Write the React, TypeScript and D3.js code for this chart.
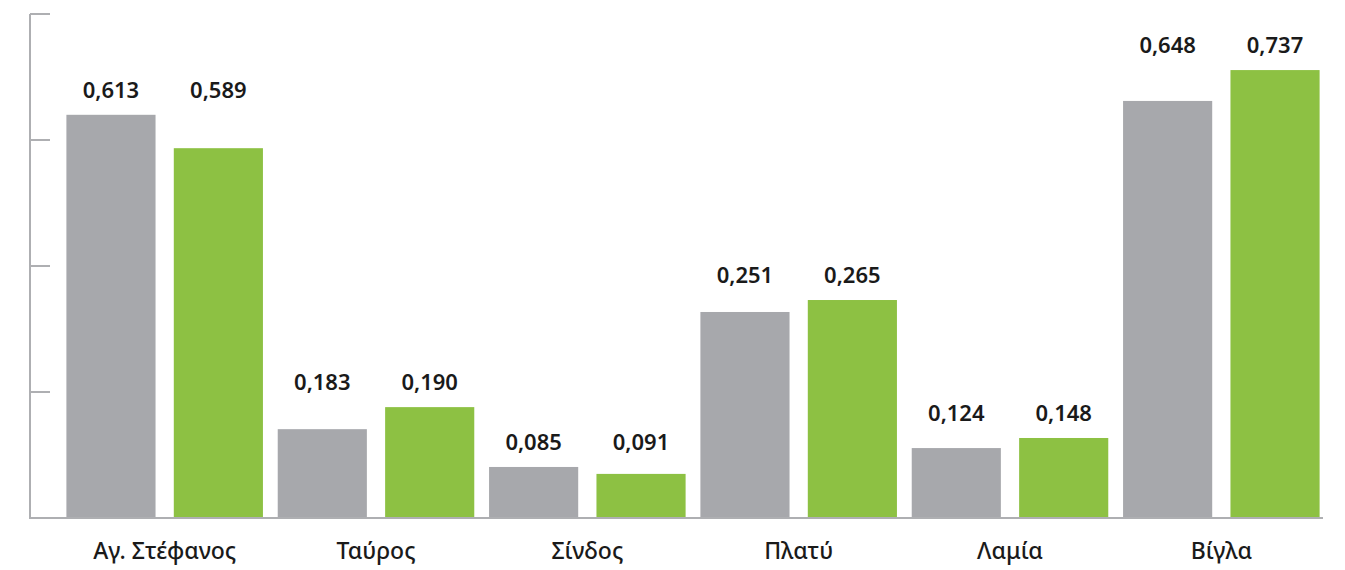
import React from "react";
import * as d3 from "d3";

// categories along the x axis
const categories = ["Αγ. Στέφανος", "Ταύρος", "Σίνδος", "Πλατύ", "Λαμία", "Βίγλα"];

// printed values above the bars
const greyLabels = ["0,613", "0,183", "0,085", "0,251", "0,124", "0,648"];
const greenLabels = ["0,589", "0,190", "0,091", "0,265", "0,148", "0,737"];

// bar heights as drawn on the (unlabelled) axis
const greyBars = [0.64, 0.141, 0.081, 0.327, 0.111, 0.662];
const greenBars = [0.587, 0.176, 0.07, 0.346, 0.127, 0.711];

const yTicks = [0, 0.2, 0.4, 0.6, 0.8];

const W = 1345;
const H = 570;
const AXIS = "#aeafb2";
const GREY = "#a7a8ac";
const GREEN = "#8dc143";
const FONT = "'Noto Sans', sans-serif";

export default function App() {
  const x0 = d3
    .scaleBand<string>()
    .domain(categories)
    .range([59, 1327])
    .paddingInner(0.07)
    .paddingOuter(0.035);

  const x1 = d3
    .scaleBand<string>()
    .domain(["grey", "green"])
    .range([0, x0.bandwidth()])
    .paddingInner(0.17);

  const y = d3.scaleLinear().domain([0, 0.8]).range([518, 14]);

  return (
    <div style={{ position: "absolute", left: 0, top: 0, background: "#fff" }}>
      <svg width={W} height={H} style={{ display: "block" }}>
        {/* axis */}
        <line x1={30} x2={30} y1={y(0.8)} y2={y(0)} stroke={AXIS} strokeWidth={2} />
        {yTicks.map((t) => (
          <line key={t} x1={30} x2={50} y1={y(t)} y2={y(t)} stroke={AXIS} strokeWidth={2} />
        ))}

        {categories.map((c, i) => {
          const gx = x0(c) || 0;
          const gTop = Math.min(y(greyBars[i]), y(greenBars[i]));
          const labelY = gTop - 17;
          const gxGrey = gx + (x1("grey") || 0);
          const gxGreen = gx + (x1("green") || 0);
          return (
            <g key={c}>
              <rect
                x={gxGrey}
                y={y(greyBars[i])}
                width={x1.bandwidth()}
                height={y(0) - y(greyBars[i])}
                fill={GREY}
              />
              <rect
                x={gxGreen}
                y={y(greenBars[i])}
                width={x1.bandwidth()}
                height={y(0) - y(greenBars[i])}
                fill={GREEN}
              />
              <text
                x={gxGrey + x1.bandwidth() / 2}
                y={labelY}
                textAnchor="middle"
                fontFamily={FONT}
                fontSize={22}
                fontWeight={600}
                fill="#1a1a1a"
              >
                {greyLabels[i]}
              </text>
              <text
                x={gxGreen + x1.bandwidth() / 2}
                y={labelY}
                textAnchor="middle"
                fontFamily={FONT}
                fontSize={22}
                fontWeight={600}
                fill="#1a1a1a"
              >
                {greenLabels[i]}
              </text>
              <text
                x={gx + x0.bandwidth() / 2}
                y={559}
                textAnchor="middle"
                fontFamily={FONT}
                fontSize={23}
                fontWeight={500}
                fill="#1a1a1a"
              >
                {c}
              </text>
            </g>
          );
        })}

        {/* baseline */}
        <line x1={29} x2={1323} y1={y(0)} y2={y(0)} stroke={AXIS} strokeWidth={2} />
      </svg>
    </div>
  );
}
